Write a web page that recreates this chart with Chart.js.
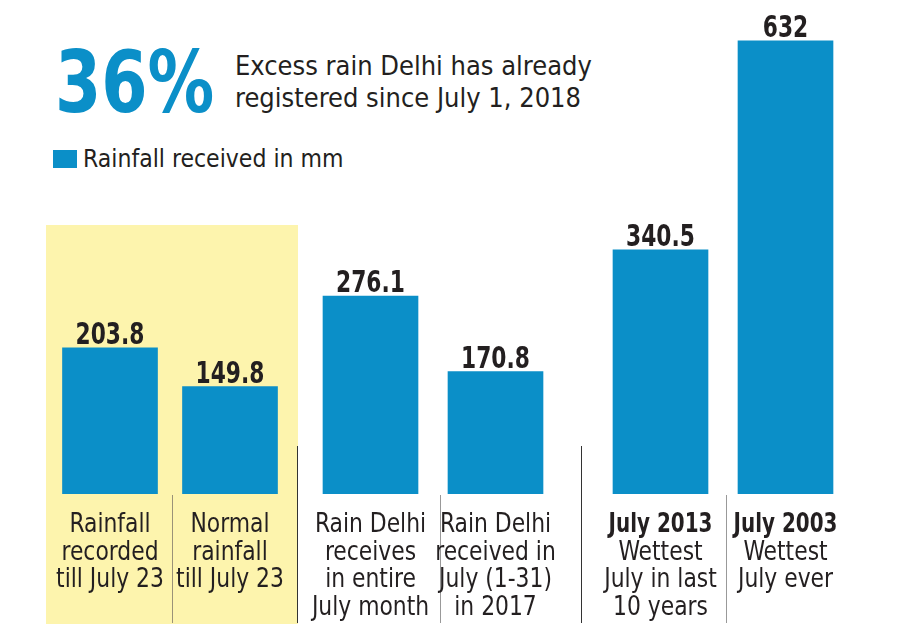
<!DOCTYPE html>
<html lang="en">

<head>
    <title>Delhi July Rainfall</title>
    <script src="https://cdn.jsdelivr.net/npm/chart.js"></script>
    <style>
        body { margin: 0; background: #fff; }
        #wrap { position: relative; width: 900px; height: 638px; overflow: hidden;
                font-family: 'DejaVu Sans Condensed', 'DejaVu Sans', sans-serif; color: #231f20; }
        .abs { position: absolute; white-space: nowrap; }
        #big { left: 55px; top: 39px; font-size: 86px; line-height: 86px; font-weight: bold; color: #0b8fc8;
               transform: scaleX(0.86); transform-origin: left top; }
        #sub { left: 235px; top: 50px; font-size: 27px; line-height: 32px; }
        #legend { left: 83px; top: 144px; font-size: 24.5px; line-height: 30px; }
        #swatch { left: 53px; top: 150px; width: 24px; height: 18px; background: #0b8fc8; }
        #highlight { left: 46px; top: 225px; width: 252px; height: 399px; background: #fdf4ad; }
        .div { position: absolute; width: 1px; }
        canvas { position: absolute; top: 0; }
    </style>
</head>

<body>
    <div id="wrap">
        <div id="highlight" class="abs"></div>
        <div id="big" class="abs">36%</div>
        <div id="sub" class="abs">Excess rain Delhi has already<br>registered since July 1, 2018</div>
        <div id="swatch" class="abs"></div>
        <div id="legend" class="abs">Rainfall received in mm</div>

        <div class="div" style="left:172px; top:495px; height:128px; background:#9a9278;"></div>
        <div class="div" style="left:297px; top:446px; height:177px; background:#333;"></div>
        <div class="div" style="left:440px; top:495px; height:128px; background:#999;"></div>
        <div class="div" style="left:581px; top:446px; height:177px; background:#333;"></div>
        <div class="div" style="left:726px; top:495px; height:128px; background:#999;"></div>

        <canvas id="g1" width="300" height="638" style="left:20px"></canvas>
        <canvas id="g2" width="310" height="638" style="left:278px"></canvas>
        <canvas id="g3" width="310" height="638" style="left:568px"></canvas>
    </div>

    <script type="text/javascript">

        const categories = [
            ['Rainfall', 'recorded', 'till July 23'],
            ['Normal', 'rainfall', 'till July 23'],
            ['Rain Delhi', 'receives', 'in entire', 'July month'],
            ['Rain Delhi', 'received in', 'July (1-31)', 'in 2017'],
            ['Wettest', 'July in last', '10 years'],
            ['Wettest', 'July ever']
        ];
        const yearTags = ['', '', '', '', 'July 2013', 'July 2003'];
        const rainfall = [203.8, 149.8, 276.1, 170.8, 340.5, 632];
        const groups = [[0, 1], [2, 3], [4, 5]];

        const FONT = "'DejaVu Sans Condensed', 'DejaVu Sans', sans-serif";
        const BLUE = '#0b8fc8';
        const INK = '#231f20';

        // squeeze text horizontally, the source uses a narrow face
        function narrowText(ctx, text, x, y, sx) {
            ctx.save();
            ctx.translate(x, y);
            ctx.scale(sx, 1);
            ctx.fillText(text, 0, 0);
            ctx.restore();
        }

        // numbers over the bars + the multi-line captions under them
        const barText = {
            id: 'barText',
            afterDatasetsDraw(chart) {
                const { ctx, chartArea, scales: { x } } = chart;
                const meta = chart.getDatasetMeta(0);
                const tags = chart.options.plugins.barText.tags;
                ctx.save();
                ctx.fillStyle = INK;
                ctx.textAlign = 'center';
                ctx.textBaseline = 'alphabetic';
                meta.data.forEach((bar, i) => {
                    const v = chart.data.datasets[0].data[i];
                    ctx.font = 'bold 31px ' + FONT;
                    narrowText(ctx, String(v), bar.x, bar.y - 4, 0.78);

                    const cx = x.getPixelForValue(i);
                    let y = chartArea.bottom + 38;
                    if (tags[i]) {
                        ctx.font = 'bold 27px ' + FONT;
                        narrowText(ctx, tags[i], cx, y, 0.82);
                        y += 27.5;
                    }
                    ctx.font = '27px ' + FONT;
                    chart.data.labels[i].forEach(line => {
                        narrowText(ctx, line, cx, y, 0.9);
                        y += 27.5;
                    });
                });
                ctx.restore();
            }
        };

        function groupChart(id, idx) {
            return new Chart(document.getElementById(id), {
                type: 'bar',
                data: {
                    labels: idx.map(i => categories[i]),
                    datasets: [{
                        label: 'Rainfall received in mm',
                        data: idx.map(i => rainfall[i]),
                        backgroundColor: BLUE,
                        borderWidth: 0,
                        barThickness: 95
                    }]
                },
                options: {
                    responsive: false,
                    animation: false,
                    layout: { padding: { top: 10, bottom: 144, left: 30, right: 30 } },
                    scales: {
                        x: { display: false },
                        y: { display: false, min: 0, max: 675 }
                    },
                    plugins: {
                        legend: { display: false },
                        tooltip: { enabled: false },
                        barText: { tags: idx.map(i => yearTags[i]) }
                    }
                },
                plugins: [barText]
            });
        }

        groups.forEach((g, n) => groupChart('g' + (n + 1), g));
    </script>
</body>

</html>
